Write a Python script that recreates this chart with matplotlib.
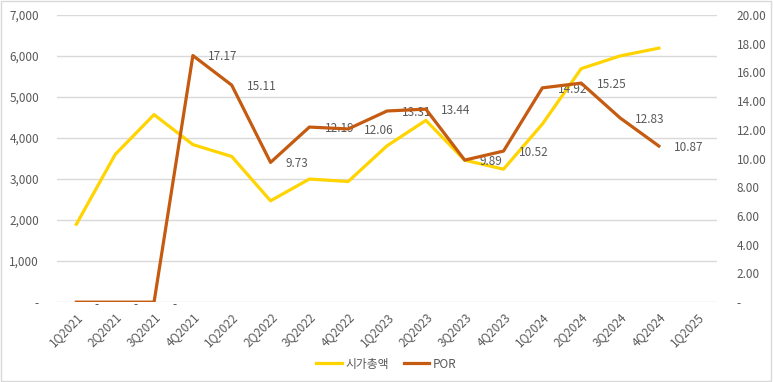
import matplotlib
matplotlib.use("Agg")
import matplotlib.pyplot as plt
from matplotlib.ticker import FuncFormatter, MultipleLocator
import numpy as np

plt.rcParams['font.family'] = ['Noto Sans CJK KR', 'DejaVu Sans']

quarters = ['1Q2021', '2Q2021', '3Q2021', '4Q2021', '1Q2022', '2Q2022', '3Q2022',
            '4Q2022', '1Q2023', '2Q2023', '3Q2023', '4Q2023', '1Q2024', '2Q2024',
            '3Q2024', '4Q2024', '1Q2025']
mcap = [1900, 3600, 4570, 3840, 3550, 2470, 3000, 2940, 3810, 4430, 3460, 3240,
        4340, 5690, 6000, 6190]
por = [0, 0, 0, 17.17, 15.11, 9.73, 12.19, 12.06, 13.31, 13.44, 9.89, 10.52,
       14.92, 15.25, 12.83, 10.87]

YELLOW = '#FFD400'
RED = '#C55A11'
GRAY = '#595959'

fig = plt.figure(figsize=(7.73, 3.82), dpi=100)
ax = fig.add_axes([0.0737, 0.209, 0.854, 0.752])
ax2 = ax.twinx()

x = np.arange(len(quarters))
ax.plot(x[:len(mcap)], mcap, color=YELLOW, lw=2.3, zorder=3, label='시가총액')
ax2.plot(x[:len(por)], por, color=RED, lw=2.3, zorder=3, label='POR')

# data labels for POR (right of each point), zero shown as "-"
for xi, v in zip(x, por):
    if v == 0:
        ax2.annotate('-', (xi, v), xytext=(13, -1.5), textcoords='offset points',
                     ha='left', va='center', fontsize=8.5, color=GRAY, zorder=1)
    else:
        ax2.annotate(f'{v:.2f}', (xi, v), xytext=(11, -1), textcoords='offset points',
                     ha='left', va='center', fontsize=8.5, color=GRAY, zorder=1)

ax.set_xlim(-0.5, len(quarters) - 0.5)
ax.set_ylim(0, 7000)
ax2.set_ylim(0, 20)
ax.yaxis.set_major_locator(MultipleLocator(1000))
ax2.yaxis.set_major_locator(MultipleLocator(2))
ax.yaxis.set_major_formatter(FuncFormatter(lambda v, p: '-' if v == 0 else f'{v:,.0f}'))
ax2.yaxis.set_major_formatter(FuncFormatter(lambda v, p: '-' if v == 0 else f'{v:.2f}'))

ax.set_xticks(x)
ax.set_xticklabels(quarters, rotation=45, ha='right', rotation_mode='anchor')

ax.grid(axis='y', color='#D9D9D9', lw=1)
ax.set_axisbelow(True)
for a in (ax, ax2):
    for s in a.spines.values():
        s.set_visible(False)
    a.tick_params(length=0, labelsize=8.5, colors=GRAY)
ax.tick_params(axis='y', pad=13)
ax2.tick_params(axis='y', pad=14)
ax.tick_params(axis='x', pad=6)

ax.set_zorder(ax2.get_zorder() - 1)
ax.patch.set_visible(False)

h1, l1 = ax.get_legend_handles_labels()
h2, l2 = ax2.get_legend_handles_labels()
fig.legend(h1 + h2, l1 + l2, loc='center', bbox_to_anchor=(0.5, 0.047), ncol=2,
           frameon=False, fontsize=8.5, labelcolor=GRAY, handlelength=2.2,
           handletextpad=0.3, columnspacing=1.2)

fig.patches.append(plt.Rectangle((0.001, 0.002), 0.997, 0.995, transform=fig.transFigure,
                                 fill=False, edgecolor='#D9D9D9', lw=1))

fig.savefig('out.png', dpi=100)
